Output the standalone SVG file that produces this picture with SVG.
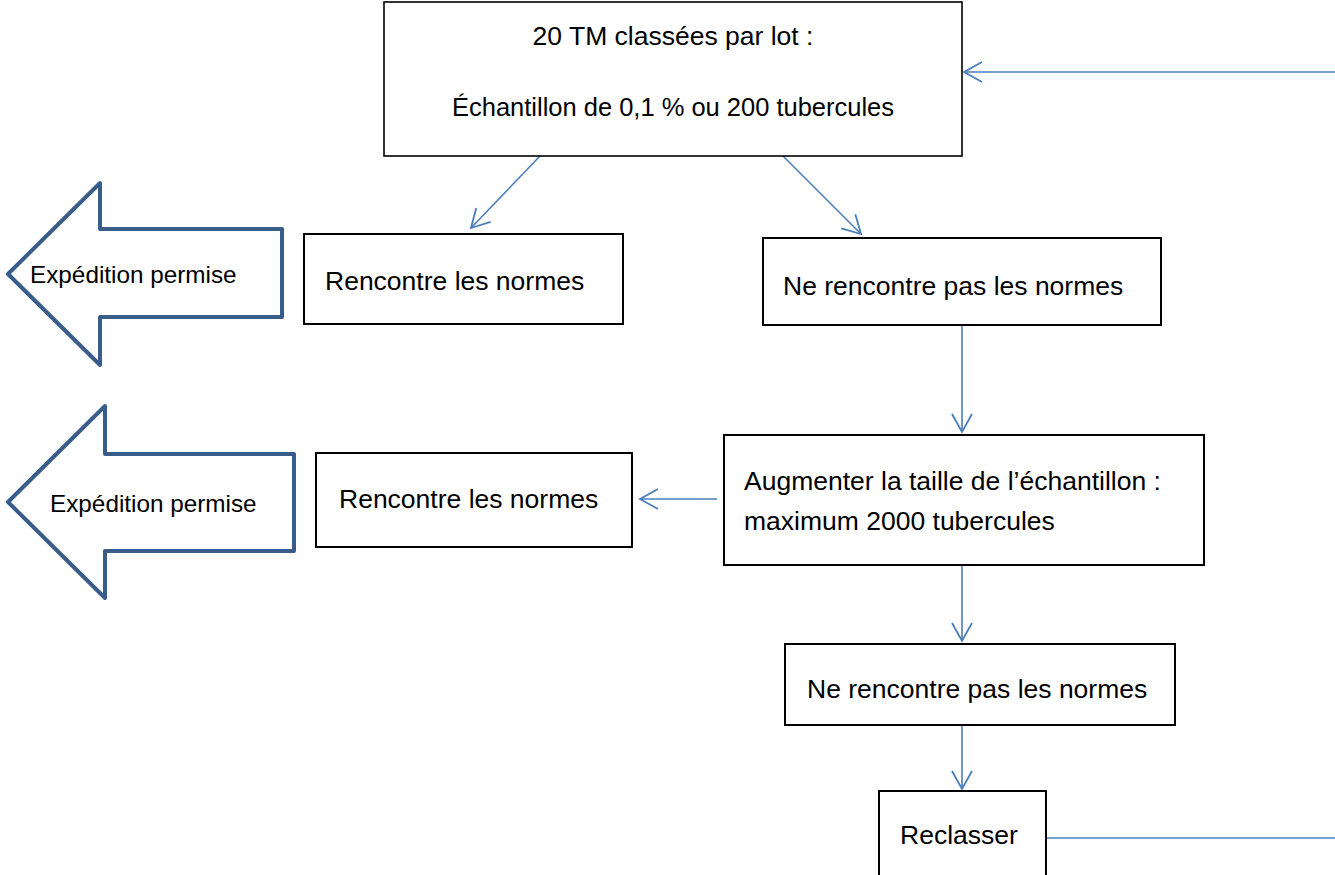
<svg xmlns="http://www.w3.org/2000/svg" width="1335" height="875" viewBox="0 0 1335 875">
<defs>
<style>
.box{fill:#fff;stroke:#000;stroke-width:2}
.blk{fill:#fff;stroke:#385D8A;stroke-width:4;stroke-linejoin:round}
.t{font-family:"Liberation Sans",Arial,sans-serif;font-size:26.5px;fill:#000}
.ts{font-family:"Liberation Sans",Arial,sans-serif;font-size:24.3px;fill:#000}
.c{fill:none;stroke:#4A7EBB;stroke-width:1.6}
</style>
<marker id="ah" markerUnits="userSpaceOnUse" markerWidth="24" markerHeight="24" viewBox="-20 -12 22 24" refX="0" refY="0" orient="auto">
<path d="M-18,-10 L0,0 L-18,10" fill="none" stroke="#4A7EBB" stroke-width="1.8"/>
</marker>
</defs>
<rect width="1335" height="875" fill="#fff"/>
<g id="connectors">
<line class="c" x1="540" y1="156" x2="471" y2="228" marker-end="url(#ah)"/>
<line class="c" x1="783" y1="156" x2="861" y2="234" marker-end="url(#ah)"/>
<line class="c" x1="962" y1="325" x2="962" y2="432" marker-end="url(#ah)"/>
<line class="c" x1="717" y1="499" x2="640" y2="499" marker-end="url(#ah)"/>
<line class="c" x1="962" y1="565" x2="962" y2="641" marker-end="url(#ah)"/>
<line class="c" x1="962" y1="725" x2="962" y2="789" marker-end="url(#ah)"/>
<line class="c" x1="1335" y1="72" x2="964" y2="72" marker-end="url(#ah)"/>
<line class="c" x1="1046" y1="838" x2="1335" y2="838"/>
</g>
<g id="top">
<rect class="box" x="384" y="2" width="578" height="154" style="stroke-width:1.6"/>
<text class="t" x="673" y="45" text-anchor="middle">20 TM classées par lot :</text>
<text class="t" x="673" y="116" text-anchor="middle" textLength="442" lengthAdjust="spacingAndGlyphs">Échantillon de 0,1 % ou 200 tubercules</text>
</g>
<g id="ok1">
<rect class="box" x="304" y="234" width="319" height="90"/>
<text class="t" x="325" y="290">Rencontre les normes</text>
</g>
<g id="nok1">
<rect class="box" x="763" y="238" width="398" height="87"/>
<text class="t" x="783" y="295">Ne rencontre pas les normes</text>
</g>
<g id="augmenter">
<rect class="box" x="724" y="435" width="480" height="130"/>
<text class="t" x="744" y="490">Augmenter la taille de l’échantillon :</text>
<text class="t" x="744" y="530">maximum 2000 tubercules</text>
</g>
<g id="ok2">
<rect class="box" x="316" y="453" width="316" height="94"/>
<text class="t" x="339" y="508">Rencontre les normes</text>
</g>
<g id="nok2">
<rect class="box" x="785" y="644" width="390" height="81"/>
<text class="t" x="807" y="698">Ne rencontre pas les normes</text>
</g>
<g id="reclasser">
<rect class="box" x="879" y="791" width="167" height="120"/>
<text class="t" x="900" y="844">Reclasser</text>
</g>
<g id="exp1">
<polygon class="blk" points="8,274 100,183 100,229 282,229 282,317 100,317 100,365"/>
<text class="ts" x="30" y="283">Expédition permise</text>
</g>
<g id="exp2">
<polygon class="blk" points="8,502 105,406 105,454 294,454 294,551 105,551 105,598"/>
<text class="ts" x="50" y="512">Expédition permise</text>
</g>
</svg>
